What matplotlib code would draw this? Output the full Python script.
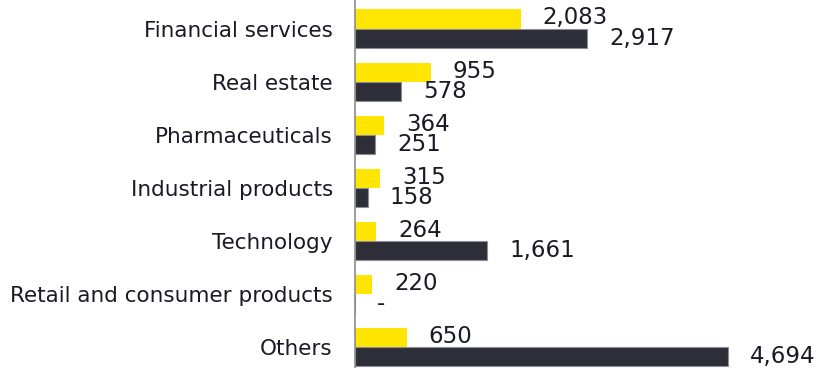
import numpy as np
import matplotlib.pyplot as plt

categories = ['Financial services', 'Real estate', 'Pharmaceuticals',
              'Industrial products', 'Technology',
              'Retail and consumer products', 'Others']
yellow_vals = [2083, 955, 364, 315, 264, 220, 650]
dark_vals = [2917, 578, 251, 158, 1661, 0, 4694]

barH = 0.36
y = np.arange(len(categories))

fig = plt.figure(figsize=(8.2, 3.68), dpi=100)
ax = fig.add_axes([355 / 820, 0, 465 / 820, 1])

ax.barh(y - barH / 2, yellow_vals, height=barH, color='#FFE600')
ax.barh(y + barH / 2, dark_vals, height=barH, color='#2E2E38',
        edgecolor='#8c8c94', linewidth=0.8)

def fmt(v):
    return '-' if v == 0 else f'{v:,}'

for i in range(len(categories)):
    ax.annotate(fmt(yellow_vals[i]), (yellow_vals[i], y[i] - barH / 2),
                xytext=(22, 1), textcoords='offset pixels',
                va='center', ha='left', fontsize=16.5, color='#1a1a24')
    ax.annotate(fmt(dark_vals[i]), (dark_vals[i], y[i] + barH / 2),
                xytext=(22, 0), textcoords='offset pixels',
                va='center', ha='left', fontsize=16.5, color='#1a1a24')

ax.set_xlim(0, 5847)
ax.set_ylim(6.393, -0.537)
ax.set_yticks(y)
ax.set_yticklabels(categories, fontsize=15.5, color='#1a1a24')
ax.tick_params(axis='y', length=0, pad=16)
ax.set_xticks([])
for s in ['top', 'right', 'bottom']:
    ax.spines[s].set_visible(False)
ax.spines['left'].set_color('#8c8c8c')
ax.spines['left'].set_linewidth(1.2)

fig.savefig('out.png', dpi=100)
